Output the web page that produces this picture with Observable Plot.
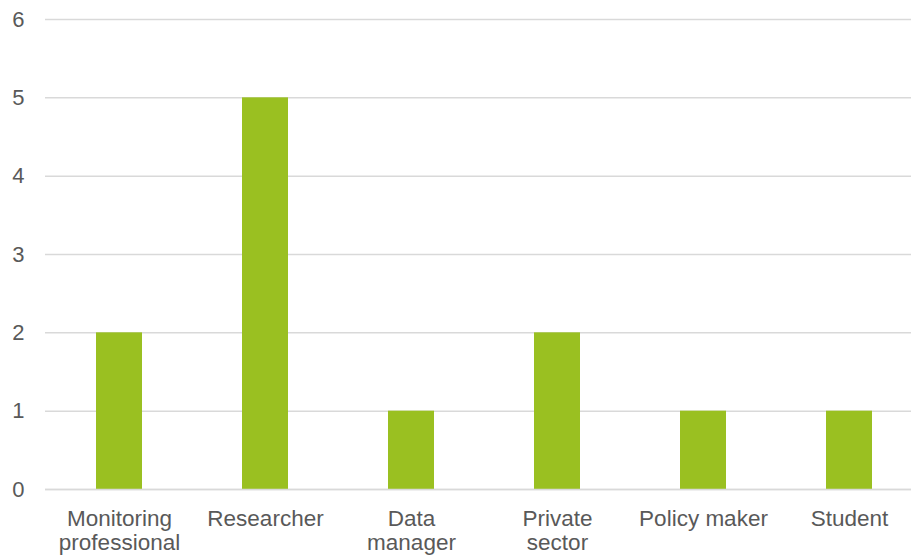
<!DOCTYPE html>
<html>
<head>
<meta charset="utf-8">
<script src="https://cdn.jsdelivr.net/npm/d3@7"></script>
<script src="https://cdn.jsdelivr.net/npm/@observablehq/plot@0.6"></script>
<style>
  html, body { margin: 0; padding: 0; background: #fff; }
  #chart svg { display: block; }
</style>
</head>
<body>
<div id="chart"></div>
<script>
// Respondents by role
const categories = ["Monitoring professional", "Researcher", "Data manager", "Private sector", "Policy maker", "Student"];
const counts = [2, 5, 1, 2, 1, 1];
const tickLabels = ["Monitoring\nprofessional", "Researcher", "Data\nmanager", "Private\nsector", "Policy maker", "Student"];
const yTicks = [0, 1, 2, 3, 4, 5, 6];

const data = categories.map((c, i) => ({category: c, count: counts[i]}));

const gridColor = "#d9d9d9";
const barColor = "#9ac021";
const textColor = "#595959";

const chart = Plot.plot({
  width: 911,
  height: 557,
  marginLeft: 45,
  marginRight: 0,
  marginTop: 19,
  marginBottom: 68,
  style: {
    fontFamily: "'Liberation Sans', Arial, sans-serif",
    color: textColor,
    background: "#fff",
    overflow: "visible"
  },
  x: {
    domain: categories,
    range: [45, 922],
    paddingInner: 0.685,
    paddingOuter: 0.3425
  },
  y: {domain: [0, 6]},
  marks: [
    Plot.ruleY(yTicks, {stroke: gridColor, strokeWidth: 1.5}),
    Plot.barY(data, {x: "category", y: "count", fill: barColor}),
    Plot.ruleY([0], {stroke: gridColor, strokeWidth: 1.5}),
    Plot.axisY({
      ticks: yTicks,
      tickSize: 0,
      tickPadding: 21,
      fontSize: 22,
      fill: textColor,
      tickFormat: d => String(d),
      label: null
    }),
    Plot.axisX({
      tickSize: 0,
      tickPadding: 20,
      fontSize: 22.5,
      lineHeight: 1.06,
      fill: textColor,
      tickFormat: d => tickLabels[categories.indexOf(d)],
      label: null
    })
  ]
});

document.getElementById("chart").appendChild(chart);
</script>
</body>
</html>
